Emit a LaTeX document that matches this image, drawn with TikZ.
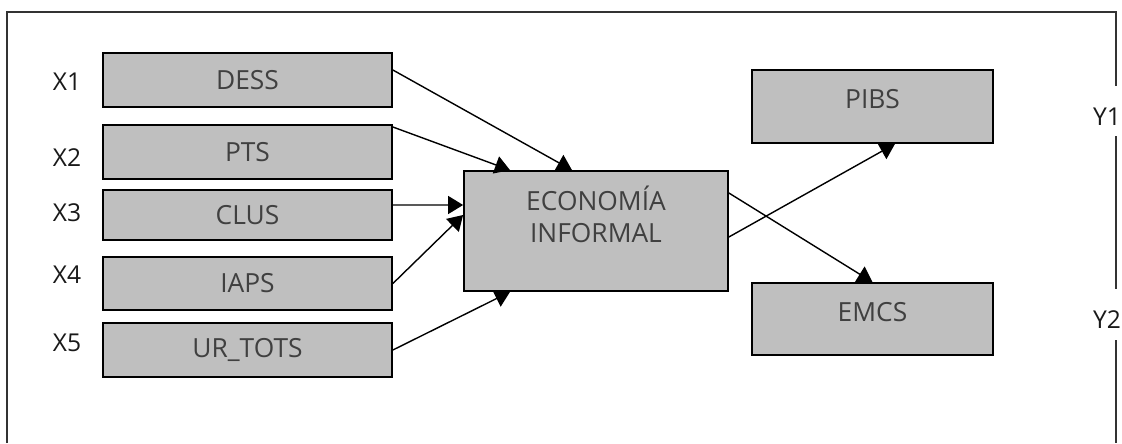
\documentclass[tikz,border=0pt]{standalone}
\usepackage{fontspec}
\setmainfont{Open Sans}
\usetikzlibrary{arrows.meta}
\definecolor{boxgray}{HTML}{BFBFBF}
\definecolor{txtgray}{HTML}{404040}
\tikzstyle{var}=[rectangle,draw=black,line width=1pt,fill=boxgray,text=txtgray,minimum width=5.78cm,minimum height=1.07cm,font=\fontsize{15}{18}\selectfont]
\tikzstyle{lab}=[font=\fontsize{14}{16}\selectfont,text=black!90]
\tikzstyle{arr}=[-{Triangle[length=0.3cm,width=0.36cm]},draw=black,line width=0.8pt]

\begin{document}
\begin{tikzpicture}
    \useasboundingbox (0,0) rectangle (22.44,-8.86);
    % frame
    \draw[line width=0.6pt,draw=black!80] (0.14,-8.86) |- (22.32,-0.24) -- (22.32,-1.72);
    \draw[line width=0.6pt,draw=black!80] (22.32,-2.72) -- (22.32,-5.78);
    \draw[line width=0.6pt,draw=black!80] (22.32,-6.80) -- (22.32,-8.86);
    \node[lab] (Y1) at (22.14,-2.34) {Y1};
    \node[lab] (Y2) at (22.14,-6.40) {Y2};
    % inputs
    \node[var] (DESS) at (4.95,-1.60) {DESS};
    \node[var] (PTS) at (4.95,-3.04) {PTS};
    \node[var,minimum height=1.0cm] (CLUS) at (4.95,-4.30) {CLUS};
    \node[var] (IAPS) at (4.95,-5.67) {IAPS};
    \node[var] (URT) at (4.95,-7.00) {UR\_TOTS};
    \node[lab] (X1) at (1.34,-1.64) {X1};
    \node[lab] (X2) at (1.34,-3.16) {X2};
    \node[lab] (X3) at (1.34,-4.26) {X3};
    \node[lab] (X4) at (1.34,-5.50) {X4};
    \node[lab] (X5) at (1.34,-6.86) {X5};
    % latent
    \node[var,minimum width=5.28cm,minimum height=2.4cm,align=center,text depth=0.68cm] (EI) at (11.92,-4.62) {ECONOMÍA\\INFORMAL};
    % outputs
    \node[var,minimum width=4.82cm,minimum height=1.46cm,text depth=0.3cm] (PIBS) at (17.45,-2.13) {PIBS};
    \node[var,minimum width=4.82cm,minimum height=1.44cm,text depth=0.3cm] (EMCS) at (17.45,-6.38) {EMCS};
    \draw[arr] ([yshift=0.2cm]DESS.east) -- ([xshift=-0.48cm]EI.north);
    \draw[arr] ([yshift=0.5cm]PTS.east) -- ([xshift=-1.72cm]EI.north);
    \draw[arr] ([yshift=0.2cm]CLUS.east) -- ([yshift=0.52cm]EI.west);
    \draw[arr] (IAPS.east) -- ([yshift=0.32cm]EI.west);
    \draw[arr] (URT.east) -- ([xshift=-1.72cm]EI.south);
    \draw[arr] ([yshift=-0.12cm]EI.east) -- ([xshift=0.45cm]PIBS.south);
    \draw[arr] ([yshift=0.76cm]EI.east) -- (EMCS.north);
\end{tikzpicture}
\end{document}
